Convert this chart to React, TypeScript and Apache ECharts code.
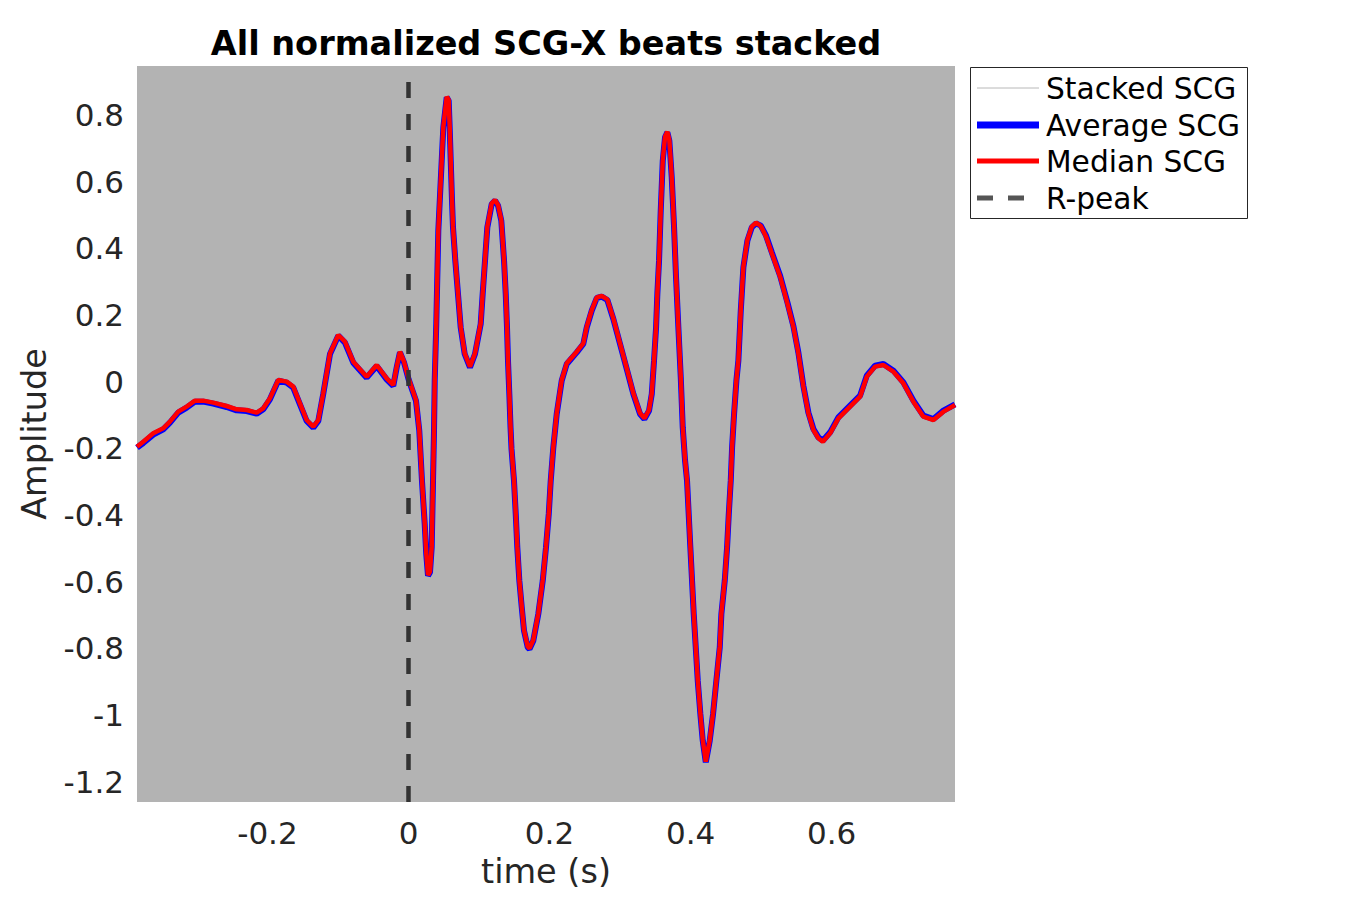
import React, { useEffect, useRef } from 'react';
import * as echarts from 'echarts';

// time (s)
const TIME = [
  -0.385, -0.3762, -0.362, -0.3478, -0.3383, -0.3265, -0.3146, -0.3028, -0.2911, -0.2769,
  -0.2579, -0.2437, -0.2295, -0.2153, -0.206, -0.1965, -0.1847, -0.1728, -0.1634, -0.1539,
  -0.1444, -0.135, -0.1279, -0.1209, -0.1113, -0.0996, -0.0901, -0.0783, -0.0593, -0.0451,
  -0.0309, -0.0216, -0.0167, -0.0121, -0.0064, 0.0, 0.0057, 0.0106, 0.0153, 0.0191,
  0.023, 0.0252, 0.0277, 0.0305, 0.0329, 0.0348, 0.0362, 0.0372, 0.0394, 0.0423,
  0.0471, 0.0494, 0.0542, 0.057, 0.0584, 0.0599, 0.0617, 0.0631, 0.0664, 0.0702,
  0.074, 0.0797, 0.0872, 0.0943, 0.1024, 0.1052, 0.1085, 0.1118, 0.118, 0.1227,
  0.127, 0.1316, 0.1355, 0.1379, 0.1397, 0.1411, 0.143, 0.1447, 0.1461, 0.1496,
  0.1521, 0.1543, 0.1572, 0.1606, 0.1638, 0.1691, 0.1716, 0.177, 0.1841, 0.1904,
  0.195, 0.1989, 0.2017, 0.2054, 0.2102, 0.2173, 0.2244, 0.2386, 0.2479, 0.2528,
  0.2599, 0.267, 0.274, 0.282, 0.2905, 0.3, 0.3095, 0.3189, 0.3284, 0.3345,
  0.3411, 0.345, 0.3482, 0.3511, 0.3529, 0.3553, 0.3577, 0.3606, 0.3638, 0.3671,
  0.3699, 0.3733, 0.3766, 0.3794, 0.3827, 0.3861, 0.3889, 0.3922, 0.395, 0.3997,
  0.4045, 0.4102, 0.4139, 0.4173, 0.4216, 0.4272, 0.4319, 0.4366, 0.4414, 0.4437,
  0.4485, 0.4518, 0.4542, 0.457, 0.4589, 0.4617, 0.465, 0.4678, 0.4712, 0.4749,
  0.4806, 0.4868, 0.4929, 0.4996, 0.5071, 0.5152, 0.527, 0.5373, 0.5458, 0.5529,
  0.56, 0.5671, 0.5742, 0.5813, 0.5875, 0.5979, 0.6096, 0.6262, 0.6404, 0.6499,
  0.6617, 0.6735, 0.6877, 0.7018, 0.716, 0.7302, 0.7444, 0.7586, 0.775,
];

// Median SCG amplitude
const MEDIAN = [
  -0.195, -0.18, -0.155, -0.14, -0.12, -0.09, -0.075, -0.057, -0.057, -0.063,
  -0.073, -0.083, -0.085, -0.093, -0.08, -0.05, 0.005, 0.0, -0.015, -0.065,
  -0.115, -0.135, -0.115, -0.035, 0.085, 0.14, 0.12, 0.06, 0.015, 0.05,
  0.01, -0.01, 0.045, 0.09, 0.06, 0.01, -0.025, -0.055, -0.145, -0.295,
  -0.425, -0.515, -0.58, -0.57, -0.495, -0.295, -0.145, 0.005, 0.175, 0.455,
  0.665, 0.765, 0.855, 0.845, 0.765, 0.665, 0.545, 0.465, 0.365, 0.265,
  0.165, 0.085, 0.045, 0.085, 0.175, 0.265, 0.365, 0.465, 0.535, 0.545,
  0.53, 0.485, 0.365, 0.265, 0.165, 0.065, -0.035, -0.135, -0.2, -0.295,
  -0.395, -0.495, -0.595, -0.675, -0.745, -0.795, -0.8, -0.775, -0.695, -0.595,
  -0.495, -0.395, -0.295, -0.195, -0.095, 0.005, 0.055, 0.09, 0.115, 0.165,
  0.215, 0.253, 0.257, 0.247, 0.19, 0.115, 0.04, -0.035, -0.095, -0.11,
  -0.085, -0.035, 0.065, 0.165, 0.265, 0.365, 0.515, 0.665, 0.735, 0.75,
  0.725, 0.615, 0.465, 0.315, 0.165, 0.015, -0.135, -0.235, -0.295, -0.495,
  -0.695, -0.895, -0.995, -1.075, -1.14, -1.075, -0.995, -0.895, -0.795, -0.695,
  -0.595, -0.495, -0.395, -0.295, -0.195, -0.095, 0.005, 0.065, 0.215, 0.345,
  0.425, 0.465, 0.477, 0.467, 0.435, 0.385, 0.315, 0.235, 0.165, 0.085,
  -0.015, -0.095, -0.145, -0.17, -0.18, -0.155, -0.11, -0.075, -0.045, 0.015,
  0.045, 0.05, 0.03, -0.005, -0.06, -0.105, -0.115, -0.09, -0.07,
];

// Average SCG amplitude (almost identical to the median)
const AVERAGE = [
  -0.198, -0.184, -0.159, -0.143, -0.123, -0.093, -0.078, -0.06, -0.06, -0.066,
  -0.076, -0.086, -0.088, -0.096, -0.083, -0.053, 0.003, -0.003, -0.018, -0.068,
  -0.118, -0.138, -0.118, -0.037, 0.083, 0.138, 0.117, 0.057, 0.012, 0.047,
  0.007, -0.013, 0.043, 0.088, 0.058, 0.008, -0.027, -0.057, -0.147, -0.297,
  -0.427, -0.517, -0.582, -0.572, -0.497, -0.297, -0.147, 0.003, 0.173, 0.453,
  0.663, 0.763, 0.853, 0.843, 0.763, 0.663, 0.543, 0.463, 0.363, 0.263,
  0.163, 0.083, 0.043, 0.083, 0.173, 0.263, 0.363, 0.463, 0.533, 0.543,
  0.528, 0.483, 0.363, 0.263, 0.163, 0.063, -0.037, -0.137, -0.202, -0.297,
  -0.397, -0.497, -0.597, -0.677, -0.747, -0.797, -0.802, -0.777, -0.697, -0.597,
  -0.497, -0.397, -0.297, -0.197, -0.097, 0.003, 0.053, 0.088, 0.113, 0.163,
  0.213, 0.251, 0.255, 0.245, 0.188, 0.113, 0.038, -0.037, -0.097, -0.112,
  -0.087, -0.037, 0.063, 0.163, 0.263, 0.363, 0.513, 0.663, 0.733, 0.748,
  0.723, 0.613, 0.463, 0.313, 0.163, 0.013, -0.137, -0.237, -0.297, -0.497,
  -0.697, -0.897, -0.997, -1.077, -1.142, -1.077, -0.997, -0.897, -0.797, -0.697,
  -0.597, -0.497, -0.397, -0.297, -0.197, -0.097, 0.003, 0.063, 0.213, 0.343,
  0.423, 0.463, 0.475, 0.468, 0.438, 0.388, 0.318, 0.238, 0.167, 0.087,
  -0.013, -0.093, -0.142, -0.167, -0.177, -0.152, -0.107, -0.072, -0.042, 0.018,
  0.048, 0.053, 0.033, -0.002, -0.057, -0.102, -0.112, -0.087, -0.068,
];

const X_TICKS = [-0.2, 0, 0.2, 0.4, 0.6];
const Y_TICKS = [-1.2, -1, -0.8, -0.6, -0.4, -0.2, 0, 0.2, 0.4, 0.6, 0.8];
const X_MIN = -0.385;
const X_MAX = 0.775;
const Y_MIN = -1.261;
const Y_MAX = 0.947;
const R_PEAK_TIME = 0;
const LEGEND_LABELS = ['Stacked SCG', 'Average SCG', 'Median SCG', 'R-peak'];
const TITLE = 'All normalized SCG-X beats stacked';

const FONT = '"DejaVu Sans", "Liberation Sans", sans-serif';

function fmt(v: number): string {
  const r = Math.round(v * 10) / 10;
  return String(r === 0 ? 0 : r);
}

export default function App() {
  const ref = useRef<HTMLDivElement>(null);

  useEffect(() => {
    if (!ref.current) return;
    const chart = echarts.init(ref.current, null, { renderer: 'svg' });

    const avgData = TIME.map((t, i) => [t, AVERAGE[i]]);
    const medData = TIME.map((t, i) => [t, MEDIAN[i]]);
    const rData = [
      [R_PEAK_TIME, Y_MIN],
      [R_PEAK_TIME, Y_MAX],
    ];

    const legendX = 970.5;
    const legendY = 67.5;
    const rowsY = [88, 125, 161, 198];
    const lx1 = 977;
    const lx2 = 1039;
    const tx = 1046;

    const legendFont = `29.7px ${FONT}`;
    const textEl = (text: string, y: number) => ({
      type: 'text',
      x: tx,
      y,
      silent: true,
      style: {
        text,
        font: legendFont,
        fill: '#000000',
        align: 'left',
        verticalAlign: 'middle',
        textAlign: 'left',
        textVerticalAlign: 'middle',
      },
    });

    const option: any = {
      animation: false,
      backgroundColor: '#ffffff',
      grid: {
        left: 137,
        top: 66,
        width: 818,
        height: 736,
        show: true,
        backgroundColor: '#b3b3b3',
        borderWidth: 0,
        containLabel: false,
      },
      xAxis: {
        type: 'value',
        min: X_MIN,
        max: X_MAX,
        name: 'time (s)',
        nameLocation: 'middle',
        nameGap: 52,
        nameTextStyle: { fontFamily: FONT, fontSize: 33.5, color: '#262626' },
        axisLine: { show: false },
        axisTick: { show: false },
        splitLine: { show: false },
        axisLabel: {
          customValues: X_TICKS,
          formatter: (v: number) => fmt(v),
          fontFamily: FONT,
          fontSize: 31,
          color: '#262626',
          margin: 15,
        },
      },
      yAxis: {
        type: 'value',
        min: Y_MIN,
        max: Y_MAX,
        name: 'Amplitude',
        nameLocation: 'middle',
        nameRotate: 90,
        nameGap: 86,
        nameTextStyle: { fontFamily: FONT, fontSize: 33.5, color: '#262626' },
        axisLine: { show: false },
        axisTick: { show: false },
        splitLine: { show: false },
        axisLabel: {
          customValues: Y_TICKS,
          formatter: (v: number) => fmt(v),
          fontFamily: FONT,
          fontSize: 31,
          color: '#262626',
          margin: 13,
        },
      },
      series: [
        {
          name: 'Average SCG',
          type: 'line',
          data: avgData,
          showSymbol: false,
          symbol: 'none',
          lineStyle: { color: '#0000ff', width: 6 },
          z: 2,
        },
        {
          name: 'Median SCG',
          type: 'line',
          data: medData,
          showSymbol: false,
          symbol: 'none',
          lineStyle: { color: '#ff0000', width: 4.5 },
          z: 3,
        },
        {
          name: 'R-peak',
          type: 'line',
          data: rData,
          showSymbol: false,
          symbol: 'none',
          lineStyle: { color: '#333333', width: 4.5, type: [16, 16], dashOffset: 0 },
          z: 4,
        },
      ],
      graphic: [
        {
          type: 'text',
          x: 546,
          y: 43,
          silent: true,
          style: {
            text: TITLE,
            font: `bold 33.5px ${FONT}`,
            fill: '#000000',
            align: 'center',
            verticalAlign: 'middle',
            textAlign: 'center',
            textVerticalAlign: 'middle',
          },
        },
        {
          type: 'rect',
          shape: { x: legendX, y: legendY, width: 277, height: 151 },
          style: { fill: '#ffffff', stroke: '#262626', lineWidth: 1 },
          silent: true,
        },
        {
          type: 'line',
          shape: { x1: lx1, y1: rowsY[0], x2: lx2, y2: rowsY[0] },
          style: { stroke: '#b8b8b8', lineWidth: 1 },
          silent: true,
        },
        {
          type: 'line',
          shape: { x1: lx1, y1: rowsY[1], x2: lx2, y2: rowsY[1] },
          style: { stroke: '#0000ff', lineWidth: 7 },
          silent: true,
        },
        {
          type: 'line',
          shape: { x1: lx1, y1: rowsY[2], x2: lx2, y2: rowsY[2] },
          style: { stroke: '#ff0000', lineWidth: 5 },
          silent: true,
        },
        {
          type: 'line',
          shape: { x1: lx1, y1: rowsY[3], x2: lx2, y2: rowsY[3] },
          style: { stroke: '#555555', lineWidth: 5, lineDash: [16, 15] },
          silent: true,
        },
        textEl(LEGEND_LABELS[0], rowsY[0]),
        textEl(LEGEND_LABELS[1], rowsY[1]),
        textEl(LEGEND_LABELS[2], rowsY[2]),
        textEl(LEGEND_LABELS[3], rowsY[3]),
      ],
    };

    chart.setOption(option);
    return () => chart.dispose();
  }, []);

  return (
    <div
      ref={ref}
      style={{ position: 'fixed', left: 0, top: 0, width: 1350, height: 900, background: '#ffffff' }}
    />
  );
}
